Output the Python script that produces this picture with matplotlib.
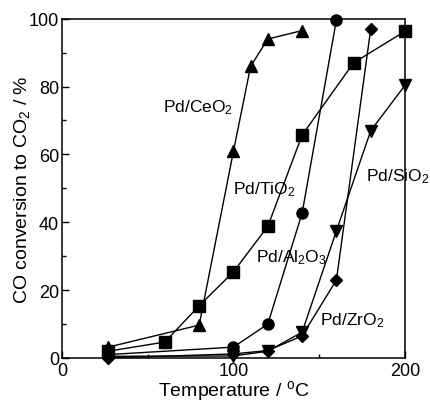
import numpy as np
import matplotlib
matplotlib.use("Agg")
import matplotlib.pyplot as plt
from matplotlib.ticker import MultipleLocator

plt.rcParams['font.family'] = ['Liberation Sans', 'DejaVu Sans']
plt.rcParams['mathtext.default'] = 'regular'

# CO conversion (%) vs temperature (degC) for each support
t_ceo2 = [27, 80, 100, 110, 120, 140]
co_ceo2 = [3.2, 9.7, 61, 86, 94, 96.5]

t_tio2 = [27, 60, 80, 100, 120, 140, 170, 200]
co_tio2 = [2, 4.7, 15.4, 25.4, 38.8, 65.7, 87, 96.3]

t_al2o3 = [27, 100, 120, 140, 160]
co_al2o3 = [1, 3.2, 10, 42.7, 99.7]

t_zro2 = [27, 100, 120, 140, 160, 180]
co_zro2 = [0, 1.2, 2.2, 6.5, 23, 97]

t_sio2 = [27, 100, 120, 140, 160, 180, 200]
co_sio2 = [0.5, 0.6, 2, 7.6, 37.5, 67, 80.4]

labels = ['Pd/CeO$_2$', 'Pd/TiO$_2$', 'Pd/SiO$_2$', 'Pd/Al$_2$O$_3$', 'Pd/ZrO$_2$']
label_x = [59, 100, 177, 113, 150.5]
label_y = [74, 50, 53.6, 30, 11.2]

fig = plt.figure(figsize=(4.3, 4.02), dpi=100)
ax = fig.add_axes([0.144, 0.107, 0.798, 0.844])

style = dict(color='black', lw=1.0, markersize=8, clip_on=False, zorder=3)
ax.plot(t_sio2, co_sio2, marker='v', **style)
ax.plot(t_zro2, co_zro2, marker='D', markersize=6.5, color='black', lw=1.0, clip_on=False, zorder=3)
ax.plot(t_al2o3, co_al2o3, marker='o', **style)
ax.plot(t_tio2, co_tio2, marker='s', **style)
ax.plot(t_ceo2, co_ceo2, marker='^', **style)

for s, x, y in zip(labels, label_x, label_y):
    ax.text(x, y, s, fontsize=12.5, ha='left', va='center')

ax.set_xlim(0, 200)
ax.set_ylim(0, 100)
ax.xaxis.set_major_locator(MultipleLocator(100))
ax.xaxis.set_minor_locator(MultipleLocator(50))
ax.yaxis.set_major_locator(MultipleLocator(20))
ax.yaxis.set_minor_locator(MultipleLocator(10))
ax.tick_params(which='both', direction='in', labelsize=13, width=1.0)
ax.tick_params(which='major', length=5)
ax.tick_params(which='minor', length=3)
ax.tick_params(axis='y', pad=2)
ax.tick_params(axis='x', pad=3)
for sp in ax.spines.values():
    sp.set_linewidth(1.1)

ax.set_xlabel('Temperature / $^{o}$C', fontsize=14, labelpad=-1)
ax.set_ylabel('CO conversion to CO$_2$ / %', fontsize=14, labelpad=-2)

fig.savefig('out.png', dpi=100)
